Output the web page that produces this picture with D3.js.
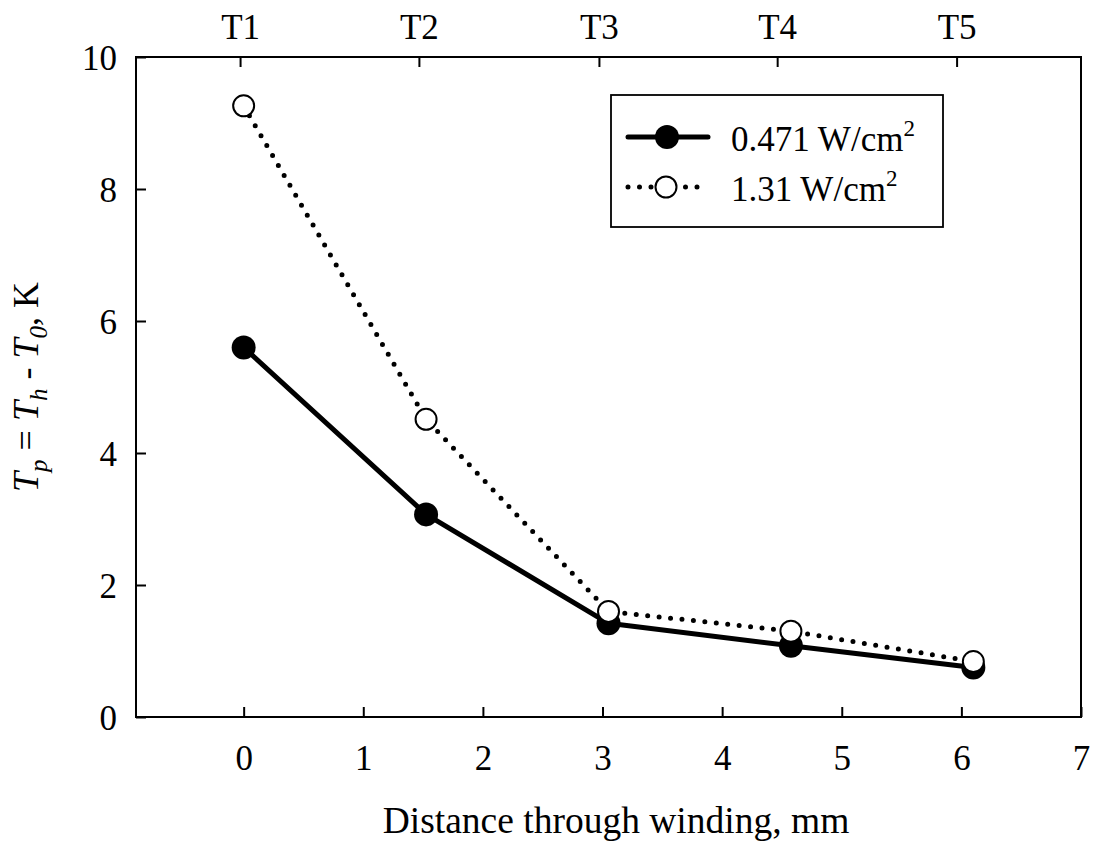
<!DOCTYPE html>
<html>
<head>
<meta charset="utf-8">
<script src="https://cdn.jsdelivr.net/npm/d3@7"></script>
<style>
  html, body { margin: 0; padding: 0; background: #fff; }
  svg { display: block; font-family: "Liberation Serif", "Times New Roman", serif; }
</style>
</head>
<body>
<svg id="chart" width="1095" height="848"></svg>
<script>
// Distance of each thermocouple through the winding (mm)
const distance = [0, 1.525, 3.05, 4.575, 6.1];
// Temperature rise T_p (K) at two heat fluxes
const lowFlux = [5.6, 3.07, 1.42, 1.08, 0.75];   // 0.471 W/cm^2
const highFlux = [9.26, 4.51, 1.6, 1.3, 0.84];   // 1.31 W/cm^2
const seriesNames = ["0.471 W/cm", "1.31 W/cm"];
// Thermocouple labels along the top edge and where they sit
const tcLabels = ["T1", "T2", "T3", "T4", "T5"];
const tcPositions = [-0.03, 1.465, 2.97, 4.46, 5.96];
const xTicks = [0, 1, 2, 3, 4, 5, 6, 7];
const yTicks = [0, 2, 4, 6, 8, 10];

const svg = d3.select("#chart");
const plotL = 136, plotR = 1081, plotT = 57, plotB = 717;
const FS = 35;

const x = d3.scaleLinear().domain([-0.9, 7]).range([plotL, plotR]);
const y = d3.scaleLinear().domain([0, 10]).range([plotB, plotT]);

function styleAxis(g) {
  g.select(".domain").remove();
  g.selectAll(".tick line").attr("stroke", "#000").attr("stroke-width", 2);
  g.selectAll(".tick text").attr("fill", "#000").style("font-size", FS + "px")
    .style("font-family", "'Liberation Serif', 'Times New Roman', serif");
}

// bottom axis, ticks pointing inward
const gx = svg.append("g").attr("transform", `translate(0,${plotB})`)
  .call(d3.axisBottom(x).tickValues(xTicks).tickSize(-10).tickSizeOuter(0).tickFormat(d3.format("d")));
styleAxis(gx);
gx.selectAll(".tick text").attr("y", 53).attr("dy", 0);

// top axis with thermocouple labels
const gt = svg.append("g").attr("transform", `translate(0,${plotT})`)
  .call(d3.axisTop(x).tickValues(tcPositions).tickSize(-10).tickSizeOuter(0)
    .tickFormat((d, i) => tcLabels[i]));
styleAxis(gt);
gt.selectAll(".tick text").attr("y", -18).attr("dy", 0);

// left axis
const gy = svg.append("g").attr("transform", `translate(${plotL},0)`)
  .call(d3.axisLeft(y).tickValues(yTicks).tickSize(-10).tickSizeOuter(0).tickFormat(d3.format("d")));
styleAxis(gy);
gy.selectAll(".tick text").attr("x", -19).attr("dy", "0.35em");

// plot frame
svg.append("rect")
  .attr("x", plotL).attr("y", plotT)
  .attr("width", plotR - plotL).attr("height", plotB - plotT)
  .attr("fill", "none").attr("stroke", "#000").attr("stroke-width", 2);

const line = d3.line().x(d => x(d[0])).y(d => y(d[1]));
const lowPts = distance.map((d, i) => [d, lowFlux[i]]);
const highPts = distance.map((d, i) => [d, highFlux[i]]);

// solid series with filled markers
svg.append("path").datum(lowPts).attr("d", line)
  .attr("fill", "none").attr("stroke", "#000").attr("stroke-width", 5)
  .attr("stroke-linejoin", "round");
svg.append("g").selectAll("circle").data(lowPts).join("circle")
  .attr("cx", d => x(d[0])).attr("cy", d => y(d[1])).attr("r", 12)
  .attr("fill", "#000");

// dotted series with open markers
svg.append("path").datum(highPts).attr("d", line)
  .attr("fill", "none").attr("stroke", "#000").attr("stroke-width", 5)
  .attr("stroke-linecap", "round").attr("stroke-dasharray", "0,11.5");
svg.append("g").selectAll("circle").data(highPts).join("circle")
  .attr("cx", d => x(d[0])).attr("cy", d => y(d[1])).attr("r", 10.5)
  .attr("fill", "#fff").attr("stroke", "#000").attr("stroke-width", 2);

// legend
const lg = svg.append("g");
lg.append("rect").attr("x", 611).attr("y", 95).attr("width", 332).attr("height", 132)
  .attr("fill", "#fff").attr("stroke", "#000").attr("stroke-width", 1.8);

const rows = [
  { cy: 137, solid: true, label: seriesNames[0] },
  { cy: 187, solid: false, label: seriesNames[1] }
];
rows.forEach(r => {
  const ln = lg.append("line").attr("x1", 628).attr("x2", 708).attr("y1", r.cy).attr("y2", r.cy)
    .attr("stroke", "#000").attr("stroke-width", 5).attr("stroke-linecap", "round");
  if (!r.solid) ln.attr("stroke-dasharray", "0,11.5");
  if (r.solid) {
    lg.append("circle").attr("cx", 667).attr("cy", r.cy).attr("r", 12).attr("fill", "#000");
  } else {
    lg.append("circle").attr("cx", 666).attr("cy", r.cy).attr("r", 10.5)
      .attr("fill", "#fff").attr("stroke", "#000").attr("stroke-width", 2);
  }
  const t = lg.append("text").attr("x", 731).attr("y", r.cy + 14)
    .style("font-size", FS + "px").attr("fill", "#000");
  t.append("tspan").text(r.label);
  t.append("tspan").attr("dy", -15).style("font-size", "23px").text("2");
});

// x-axis title
svg.append("text").attr("x", 616).attr("y", 833).attr("text-anchor", "middle")
  .style("font-size", "37.5px").attr("fill", "#000")
  .text("Distance through winding, mm");

// y-axis title: T_p = T_h - T_0, K
const yt = svg.append("text").attr("transform", "translate(38,387) rotate(-90)")
  .attr("text-anchor", "middle").style("font-size", "36px").attr("fill", "#000");
const parts = [
  { t: "T", it: true },
  { t: "p", it: true, sub: true },
  { t: " = " },
  { t: "T", it: true },
  { t: "h", it: true, sub: true },
  { t: " - " },
  { t: "T", it: true },
  { t: "0", it: true, sub: true },
  { t: ", K" }
];
let shifted = false;
parts.forEach(p => {
  const s = yt.append("tspan").text(p.t);
  if (p.it) s.style("font-style", "italic");
  if (p.sub) { s.attr("dy", 9).style("font-size", "25px"); shifted = true; }
  else if (shifted) { s.attr("dy", -9); shifted = false; }
});
</script>
</body>
</html>
